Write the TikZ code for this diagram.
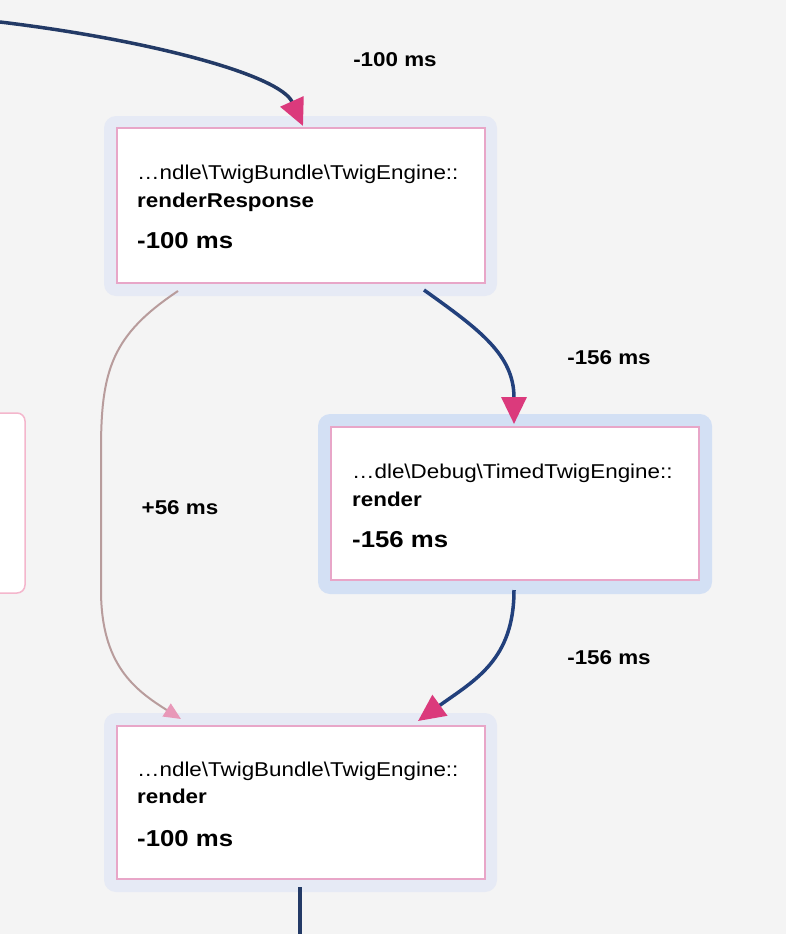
\documentclass[tikz,border=0pt]{standalone}
\usepackage{fontspec}
\setmainfont{Liberation Sans}[FakeStretch=1.12]
\usetikzlibrary{arrows.meta}
\definecolor{bg}{HTML}{F4F4F4}
\definecolor{haloA}{HTML}{E6EAF5}
\definecolor{haloB}{HTML}{D3E0F4}
\definecolor{pinkline}{HTML}{E8A6C8}
\definecolor{leftpink}{HTML}{F4B6CC}
\definecolor{navyA}{HTML}{233A66}
\definecolor{navyB}{HTML}{22407C}
\definecolor{brownish}{HTML}{B89C9C}
\definecolor{hotpink}{HTML}{DB3A7C}
\definecolor{lightpink}{HTML}{E898B8}
\tikzset{
  halo/.style={draw=none, rounded corners=12pt, inner sep=0pt, outer sep=0pt},
  innerbox/.style={draw=pinkline, line width=1.2pt, fill=white, inner sep=0pt, outer sep=0pt, minimum width=368pt},
  cls/.style={anchor=base west, inner sep=0pt, font=\fontsize{20}{24}\selectfont},
  meth/.style={anchor=base west, inner sep=0pt, font=\fontsize{20}{24}\selectfont\bfseries},
  cost/.style={anchor=base west, inner sep=0pt, font=\fontsize{23}{27}\selectfont\bfseries},
  elabel/.style={inner sep=0pt, font=\fontsize{20}{24}\selectfont\bfseries},
  heavy/.style={line width=3.5pt, -{Triangle[length=27pt,width=25pt,color=hotpink]}},
  light/.style={line width=2pt, draw=brownish, -{Triangle[length=17pt,width=15pt,fill=lightpink,color=lightpink]}}
}
\begin{document}
\begin{tikzpicture}[x=1pt,y=-1pt]
\fill[bg] (0,0) rectangle (786,934);
\useasboundingbox (0,0) rectangle (786,934);

% left partial node
\node[draw=leftpink, line width=1.5pt, fill=white, rounded corners=8pt, minimum width=60pt, minimum height=180pt, inner sep=0pt] (L) at (-5,503) {};

% top node
\node[halo, fill=haloA, minimum width=393pt, minimum height=180pt] (A) at (300.5,206) {};
\node[innerbox, minimum height=155pt] (Ai) at (301,205.5) {};
\node[cls] (A1) at ([xshift=20pt,yshift=-51pt]Ai.north west) {…ndle\textbackslash TwigBundle\textbackslash TwigEngine::};
\node[meth] (A2) at ([xshift=20pt,yshift=-79pt]Ai.north west) {renderResponse};
\node[cost] (A3) at ([xshift=20pt,yshift=-120pt]Ai.north west) {-100 ms};

% middle node
\node[halo, fill=haloB, minimum width=394pt, minimum height=180pt] (B) at (515,504) {};
\node[innerbox, minimum height=153pt] (Bi) at (515,503.5) {};
\node[cls] (B1) at ([xshift=21pt,yshift=-51pt]Bi.north west) {…dle\textbackslash Debug\textbackslash TimedTwigEngine::};
\node[meth] (B2) at ([xshift=21pt,yshift=-79pt]Bi.north west) {render};
\node[cost] (B3) at ([xshift=21pt,yshift=-120pt]Bi.north west) {-156 ms};

% bottom node
\node[halo, fill=haloA, minimum width=393pt, minimum height=179pt] (C) at (300.5,802.5) {};
\node[innerbox, minimum height=153pt] (Ci) at (301,802.5) {};
\node[cls] (C1) at ([xshift=20pt,yshift=-50pt]Ci.north west) {…ndle\textbackslash TwigBundle\textbackslash TwigEngine::};
\node[meth] (C2) at ([xshift=20pt,yshift=-77pt]Ci.north west) {render};
\node[cost] (C3) at ([xshift=20pt,yshift=-120pt]Ci.north west) {-100 ms};

% free ends
\coordinate (in1) at (0,22);
\coordinate (out5) at (300,934);

% edges
\draw[heavy, navyA]
  (in1) .. controls (150,40) and (280,75) .. ([xshift=2.5pt,yshift=-10pt]A.north);
\draw[heavy, navyB]
  ([xshift=123.5pt,yshift=6pt]A.south) .. controls (480,330) and (514,355) .. ([xshift=-1pt,yshift=-10pt]B.north);
\draw[light]
  ([xshift=-122.5pt,yshift=5pt]A.south) .. controls (112,335) and (101,370) .. (101,450)
  -- (101,590) .. controls (101,665) and (135,690) .. ([xshift=-119.5pt,yshift=-6pt]C.north);
\draw[heavy, navyB]
  ([xshift=-1pt,yshift=4pt]B.south) .. controls (514,660) and (475,680) .. ([xshift=117.5pt,yshift=-8pt]C.north);
\draw[line width=3.5pt, navyA] ([xshift=-0.5pt,yshift=5pt]C.south) -- (out5);

% edge labels
\node[elabel] (l1) at (395,60) {-100 ms};
\node[elabel] (l2) at (609,358) {-156 ms};
\node[elabel] (l3) at (180,508) {+56 ms};
\node[elabel] (l4) at (609,658) {-156 ms};
\end{tikzpicture}
\end{document}
